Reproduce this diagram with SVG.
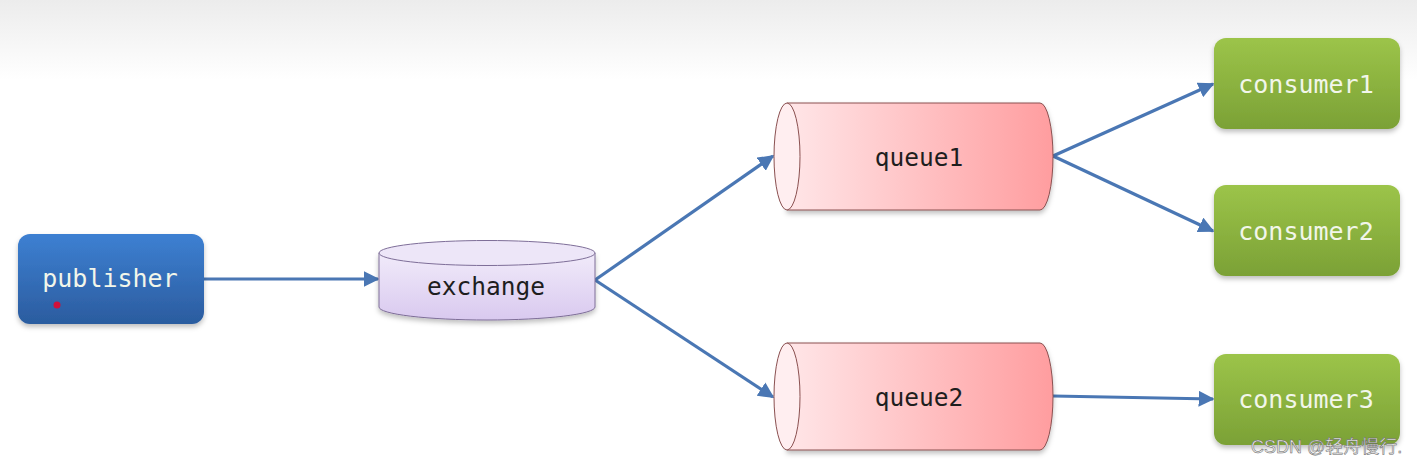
<svg xmlns="http://www.w3.org/2000/svg" width="1417" height="465" viewBox="0 0 1417 465">
<defs>
  <linearGradient id="bg" x1="0" y1="0" x2="0" y2="1">
    <stop offset="0" stop-color="#ececec"/>
    <stop offset="1" stop-color="#ffffff"/>
  </linearGradient>
  <linearGradient id="blue" x1="0" y1="0" x2="0" y2="1">
    <stop offset="0" stop-color="#3d80d2"/>
    <stop offset="1" stop-color="#2b5c9f"/>
  </linearGradient>
  <linearGradient id="green" x1="0" y1="0" x2="0" y2="1">
    <stop offset="0" stop-color="#9cc449"/>
    <stop offset="1" stop-color="#7ba136"/>
  </linearGradient>
  <linearGradient id="lav" x1="0" y1="0" x2="0" y2="1">
    <stop offset="0" stop-color="#f1ebfa"/>
    <stop offset="1" stop-color="#d9c9ef"/>
  </linearGradient>
  <linearGradient id="pink" x1="0" y1="0" x2="1" y2="0">
    <stop offset="0" stop-color="#ffe6e8"/>
    <stop offset="1" stop-color="#ff9d9f"/>
  </linearGradient>
  <filter id="sh" x="-10%" y="-10%" width="120%" height="130%">
    <feDropShadow dx="0" dy="3" stdDeviation="2.5" flood-color="#000" flood-opacity="0.25"/>
  </filter>
  <marker id="arr" viewBox="0 0 10 10" refX="9" refY="5" markerWidth="5" markerHeight="5" orient="auto" markerUnits="strokeWidth">
    <path d="M0,0 L10,5 L0,10 z" fill="#4a77b4"/>
  </marker>
  <style>
    .lt { font-family: "DejaVu Sans Mono", "Liberation Mono", monospace; font-size: 25px; fill: #f2f6ea; text-anchor: middle; dominant-baseline: central; }
    .dk { font-family: "DejaVu Sans Mono", "Liberation Mono", monospace; font-size: 24.5px; fill: #1e1e1e; text-anchor: middle; dominant-baseline: central; }
    .conn { stroke: #4a77b4; stroke-width: 3.2; fill: none; marker-end: url(#arr); }
    .cyl { stroke: #8a5050; stroke-width: 1; }
  </style>
</defs>
<rect x="0" y="0" width="1417" height="465" fill="#ffffff"/>
<rect x="0" y="0" width="1417" height="80" fill="url(#bg)"/>

<g id="connectors">
  <line class="conn" x1="204" y1="279" x2="378" y2="279"/>
  <line class="conn" x1="595" y1="280" x2="773" y2="156"/>
  <line class="conn" x1="595" y1="280" x2="773" y2="397"/>
  <line class="conn" x1="1053" y1="156" x2="1213" y2="84"/>
  <line class="conn" x1="1053" y1="156" x2="1213" y2="231"/>
  <line class="conn" x1="1053" y1="396" x2="1213" y2="399"/>
</g>

<g id="publisher">
  <rect x="18" y="234" width="186" height="90" rx="12" fill="url(#blue)" filter="url(#sh)"/>
  <text class="lt" x="110" y="278">publisher</text>
  <circle cx="57" cy="305" r="3.5" fill="#d0103a"/>
</g>

<g id="exchange">
  <path d="M379,253 L379,307 A108,13 0 0 0 595,307 L595,253 Z" fill="url(#lav)" stroke="#7e6e98" stroke-width="1" filter="url(#sh)"/>
  <ellipse cx="487" cy="253" rx="108" ry="12.5" fill="#ede6f8" stroke="#7e6e98" stroke-width="1"/>
  <text class="dk" x="486" y="286">exchange</text>
</g>

<g id="queue1">
  <path d="M787,103 L1040,103 A13,53.5 0 0 1 1040,210 L787,210 Z" fill="url(#pink)" class="cyl" filter="url(#sh)"/>
  <ellipse cx="787" cy="156.5" rx="13" ry="53.5" fill="#ffeef0" class="cyl"/>
  <text class="dk" x="919" y="157">queue1</text>
</g>

<g id="queue2">
  <path d="M787,343 L1040,343 A13,53.5 0 0 1 1040,450 L787,450 Z" fill="url(#pink)" class="cyl" filter="url(#sh)"/>
  <ellipse cx="787" cy="396.5" rx="13" ry="53.5" fill="#ffeef0" class="cyl"/>
  <text class="dk" x="919" y="397">queue2</text>
</g>

<g id="consumer1">
  <rect x="1214" y="38" width="186" height="91" rx="12" fill="url(#green)" filter="url(#sh)"/>
  <text class="lt" x="1306" y="84">consumer1</text>
</g>

<g id="consumer2">
  <rect x="1214" y="185" width="186" height="91" rx="12" fill="url(#green)" filter="url(#sh)"/>
  <text class="lt" x="1306" y="231">consumer2</text>
</g>

<g id="consumer3">
  <rect x="1214" y="354" width="186" height="91" rx="12" fill="url(#green)" filter="url(#sh)"/>
  <text class="lt" x="1306" y="399">consumer3</text>
</g>

<text x="1251" y="453" font-family="Liberation Sans, 'Noto Sans CJK SC', sans-serif" font-size="18" fill="#eeeeee" stroke="#666" stroke-width="0.5">CSDN @轻舟慢行.</text>
</svg>
